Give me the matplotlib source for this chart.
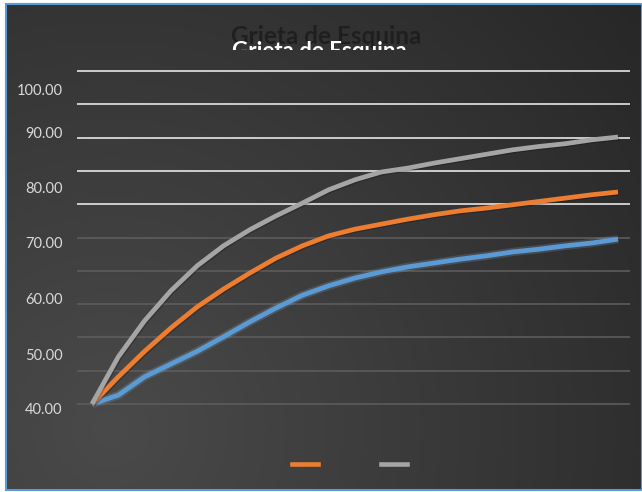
import numpy as np
import matplotlib
matplotlib.use("Agg")
import matplotlib.pyplot as plt
import matplotlib.patheffects as pe
from matplotlib.lines import Line2D
from matplotlib.patches import Rectangle
from matplotlib.transforms import Bbox, TransformedBbox

# ---- data -------------------------------------------------------------
steps = list(range(21))
serie_azul = [40.0, 41.6, 44.9, 47.2, 49.5, 52.1, 54.8, 57.3, 59.6, 61.3, 62.7,
              63.8, 64.7, 65.4, 66.1, 66.7, 67.4, 67.9, 68.5, 69.0, 69.7]
serie_naranja = [40.0, 44.9, 49.5, 53.7, 57.5, 60.7, 63.6, 66.3, 68.5, 70.3, 71.5,
                 72.4, 73.3, 74.1, 74.8, 75.3, 75.9, 76.5, 77.1, 77.7, 78.2]
serie_gris = [40.0, 48.5, 55.0, 60.4, 64.9, 68.5, 71.4, 73.9, 76.2, 78.6, 80.4,
              81.8, 82.5, 83.4, 84.2, 85.0, 85.8, 86.4, 86.9, 87.6, 88.1]
tick_labels = ["40.00", "50.00", "60.00", "70.00", "80.00", "90.00", "100.00"]
tick_pos = [39.1, 49.0, 59.0, 69.05, 79.05, 88.9, 96.7]
grid_vals = list(np.arange(40, 101, 6))
titulo = "Grieta de Esquina"

W, H = 642, 492
fig = plt.figure(figsize=(W / 100, H / 100), dpi=100)
fig.patch.set_facecolor("white")

# ---- dark radial gradient chart background -----------------------------
x0, y0, x1, y1 = 6, 4, 642, 490
bg = fig.add_axes([x0 / W, 1 - y1 / H, (x1 - x0) / W, (y1 - y0) / H], zorder=-10)
gx, gy = np.meshgrid(np.linspace(x0, x1, 320), np.linspace(y0, y1, 240))
d = np.hypot(gx - 110, gy - 430)
shade = (74 - 36 * np.clip(d / 700, 0, 1)) / 255.0
bg.imshow(np.dstack([shade, shade, shade]), aspect="auto",
          extent=(0, 1, 0, 1), origin="upper", interpolation="bilinear")
bg.set_axis_off()
fig.add_artist(Rectangle((x0 / W, 1 - y1 / H), (x1 - x0) / W, (y1 - y0) / H,
                         transform=fig.transFigure, fill=False,
                         edgecolor="#5b9bd5", linewidth=1.5, zorder=5))

# ---- plot area ---------------------------------------------------------
px_per_unit = (404 - 71) / 60.0
top_px, bot_px = 60, 430
ax = fig.add_axes([77 / W, 1 - bot_px / H, (630 - 77) / W, (bot_px - top_px) / H])
ax.set_facecolor("none")
ax.set_ylim(40 - (bot_px - 404) / px_per_unit, 100 + (71 - top_px) / px_per_unit)
ax.set_xlim(-15 / 26.3, 20 + 12 / 26.3)
for s in ax.spines.values():
    s.set_visible(False)
ax.set_xticks([])
ax.set_yticks(tick_pos, labels=tick_labels)
ax.tick_params(axis="y", length=0, pad=10.5, labelcolor="#d9d9d9", labelsize=10.5)
for lab in ax.get_yticklabels():
    lab.set_fontfamily("Lato")

for v in grid_vals:
    if v >= 76:
        ax.axhline(v, color="#e6e6e6", lw=1.2, zorder=1)
    else:
        ax.axhline(v, color="#5c5c5c", lw=1.2, zorder=1)

shadow = [pe.SimpleLineShadow(offset=(0.8, -0.8), shadow_color="black", alpha=0.22),
          pe.Normal()]
glow = [pe.Stroke(linewidth=6.0, foreground="#9fbfe0", alpha=0.18), pe.Normal()]

ax.plot(steps, serie_azul, color="#5b9bd5", lw=3.4, solid_capstyle="butt",
        path_effects=glow, zorder=3, clip_on=False)
ax.plot(steps, serie_naranja, color="#ed7d31", lw=3.4, solid_capstyle="butt",
        path_effects=shadow, zorder=4, clip_on=False)
ax.plot(steps, serie_gris, color="#a5a5a5", lw=3.4, solid_capstyle="butt",
        path_effects=shadow, zorder=5, clip_on=False)

# legend keys (no text)
handles = [Line2D([], [], color="#ed7d31", lw=3.3),
           Line2D([], [], color="#a5a5a5", lw=3.3)]
fig.legend(handles, ["", ""], ncol=2, loc="center",
           bbox_to_anchor=(353 / W, 1 - 465 / H), frameon=False,
           handlelength=1.87, handletextpad=0.5, columnspacing=4.0, fontsize=10)

# ---- title with its dark echo ------------------------------------------
fig.text(326 / W, 1 - 36 / H, titulo, ha="center", va="center",
         color="#1f1f1f", fontsize=17.5, fontweight="bold", family="Lato")
t = fig.text(319 / W, 1 - 41 / H, titulo, ha="center", va="top",
             color="white", fontsize=16, fontweight="bold", family="Lato")
t.set_clip_box(TransformedBbox(Bbox([[0, 1 - 50 / H], [1, 1]]), fig.transFigure))
t.set_clip_on(True)

fig.savefig("out.png", dpi=100)
